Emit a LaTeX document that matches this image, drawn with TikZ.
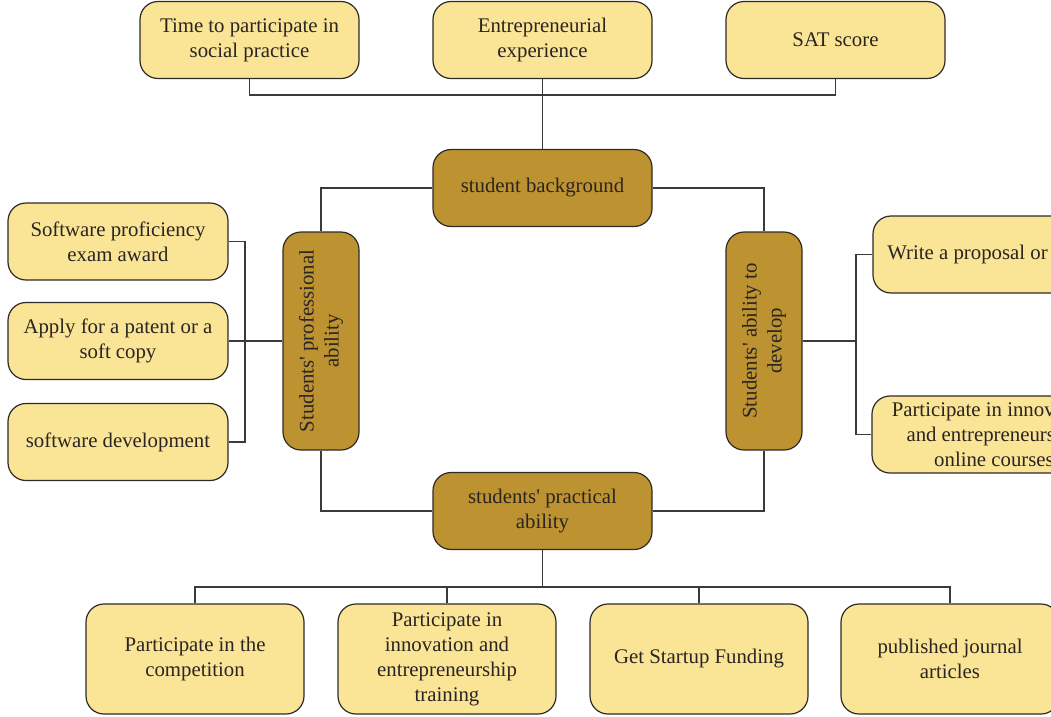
\documentclass[tikz,border=0pt]{standalone}
\usepackage{graphicx}
\usepackage{fontspec}
\setmainfont{Liberation Serif}
\definecolor{lightfill}{HTML}{FAE496}
\definecolor{darkfill}{HTML}{BD9230}
\definecolor{bordercol}{HTML}{2E2A28}
\definecolor{linecol}{HTML}{3A3A3A}
\definecolor{txt}{HTML}{2A2422}
\newcommand\boxfont{\fontsize{20.8}{25}\selectfont}
\newcommand\vlines[1]{\rotatebox{90}{\begin{tabular}{@{}c@{}}#1\end{tabular}}}
\newcommand\apos{\textquotesingle}
\tikzset{
  lbox/.style={draw=bordercol, line width=1.2pt, fill=lightfill, rounded corners=18pt,
    minimum width=219pt, minimum height=77pt, align=center, inner sep=2pt,
    font=\boxfont, text=txt},
  dbox/.style={lbox, fill=darkfill},
  vbox/.style={dbox, minimum width=76pt, minimum height=218pt},
  conn/.style={draw=linecol, line width=1.1pt},
}
\begin{document}
\begin{tikzpicture}[x=1pt,y=-1pt]
\useasboundingbox (0,0) rectangle (1051,716);
\clip (0,0) rectangle (1051,716);
% top row
\node[lbox] (t1) at (249.5,40) {Time to participate in\\social practice};
\node[lbox] (t2) at (542.5,40) {Entrepreneurial\\experience};
\node[lbox] (t3) at (835.5,40) {SAT score};
% central ring
\node[dbox] (bg) at (542.5,188) {student background};
\node[vbox] (prof) at (321,341) {\vlines{Students\apos{} professional\\ability}};
\node[vbox] (dev) at (764,341) {\vlines{Students\apos{} ability to\\develop}};
\node[dbox] (prac) at (542.5,511) {students\apos{} practical\\ability};
% left column
\node[lbox, minimum width=220pt] (l1) at (118,241.5) {Software proficiency\\exam award};
\node[lbox, minimum width=220pt] (l2) at (118,341) {Apply for a patent or a\\soft copy};
\node[lbox, minimum width=220pt] (l3) at (118,442) {software development};
% right column (cut by the picture's right edge, as in the reference)
\node[lbox, minimum width=244pt] (r1) at (995,254.5) {Write a proposal or report};
\node[lbox, minimum width=244pt] (r2) at (994,434.5) {Participate in innovation\\and entrepreneurship\\online courses};
% bottom row
\node[lbox, minimum width=218pt, minimum height=110pt] (b1) at (195,659) {Participate in the\\competition};
\node[lbox, minimum width=218pt, minimum height=110pt] (b2) at (447,659) {Participate in\\innovation and\\entrepreneurship\\training};
\node[lbox, minimum width=218pt, minimum height=110pt] (b3) at (699,659) {Get Startup Funding};
\node[lbox, minimum width=218pt, minimum height=110pt] (b4) at (950,659) {published journal\\articles};
% junctions
\coordinate (jt) at (542.5,95);
\coordinate (jb) at (542.5,587);
\coordinate (jl) at (245,341);
\coordinate (jr) at (856,341);
% connectors
\draw[conn] (t1.south) |- (jt) -| (t3.south);
\draw[conn] (t2.south) -- (bg.north);
\draw[conn] (bg.west) -| (prof.north);
\draw[conn] (bg.east) -| (dev.north);
\draw[conn] (prof.south) |- (prac.west);
\draw[conn] (dev.south) |- (prac.east);
\draw[conn] (prac.south) -- (jb);
\draw[conn] (b1.north) |- (jb) -| (b4.north);
\draw[conn] (b2.north) -- (b2.north |- jb);
\draw[conn] (b3.north) -- (b3.north |- jb);
\draw[conn] (l1.east) -| (jl) |- (l3.east);
\draw[conn] (l2.east) -- (prof.west);
\draw[conn] (dev.east) -- (jr);
\draw[conn] (r1.west) -| (jr) |- (r2.west);
\end{tikzpicture}
\end{document}
